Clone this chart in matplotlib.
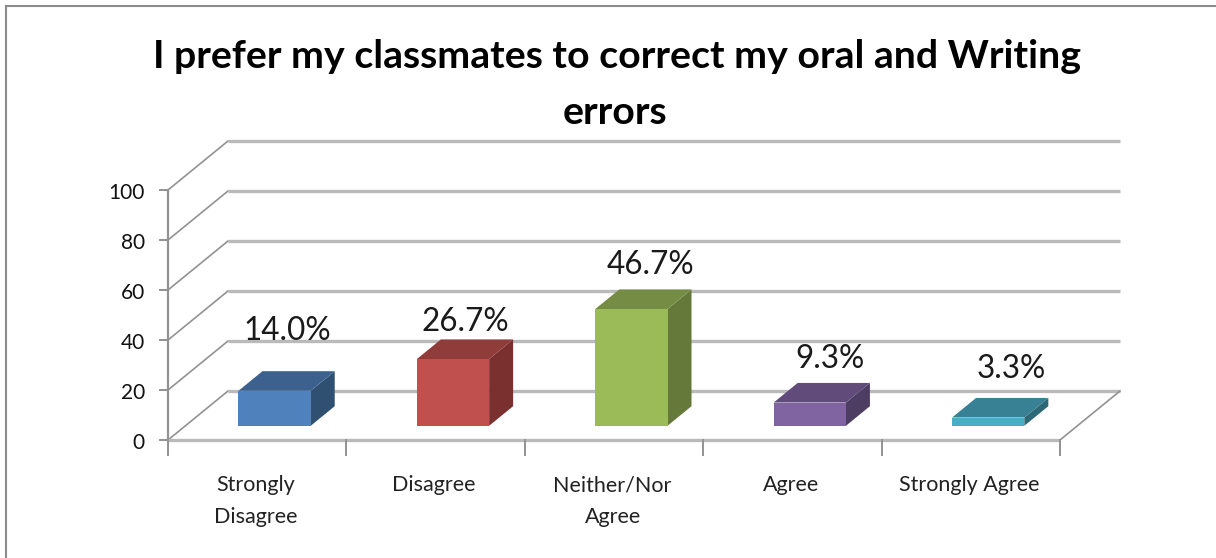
import matplotlib
matplotlib.use("Agg")
import matplotlib.pyplot as plt
from matplotlib.patches import Polygon

# Data
categories = ["Strongly\nDisagree", "Disagree", "Neither/Nor\nAgree", "Agree", "Strongly Agree"]
values = [14.0, 26.7, 46.7, 9.3, 3.3]
labels = ["14.0%", "26.7%", "46.7%", "9.3%", "3.3%"]
yticks = [0, 20, 40, 60, 80, 100]
title1 = "I prefer my classmates to correct my oral and Writing"
title2 = "errors"

front = ["#4f81bd", "#c0504d", "#9bbb59", "#8064a2", "#4bacc6"]
top = ["#3c618e", "#903c3a", "#748c43", "#604b7a", "#388195"]
side = ["#305072", "#7a302e", "#657a3a", "#4e3d63", "#2d6877"]

W, H = 1216, 558
grid_col = "#bababa"
axis_col = "#929292"

# depth of the 3D box, in data units
DX = 60 / 178.4
DY = 49 / 2.5

# label nudges (px), Excel placed these by hand
label_dx = [-11, -12, -5, -4, -1]
label_dy = [40, 17, 24, 24, 29]


def proj(x, y, d=0.0):
    return (x + d * DX, y + d * DY)


plt.rcParams["font.family"] = ["Lato", "DejaVu Sans"]
fig = plt.figure(figsize=(W / 100, H / 100), dpi=100)

ax = fig.add_axes([168 / W, 1 - 440 / H, 892 / W, 250 / H])
ax.set_xlim(0, 5)
ax.set_ylim(0, 100)
ax.axis("off")

# gridlines on the back wall + side wall + floor
for v in yticks:
    ax.plot(*zip(proj(0, v), proj(0, v, 1)), color=axis_col, lw=1.2, clip_on=False)
    ax.plot(*zip(proj(0, v, 1), proj(5, v, 1)), color=grid_col, lw=2.4, clip_on=False,
            solid_capstyle="butt")
    ax.plot(*zip(proj(0, v), proj(-0.045, v)), color=axis_col, lw=1.4, clip_on=False)
    ax.text(-0.129, v - 1.2, str(v), ha="right", va="center", fontsize=15, color="#111111",
            clip_on=False)

# axis lines
ax.plot([0, 0], [0, 100], color=axis_col, lw=1.6, clip_on=False)
ax.plot([0, 5], [0, 0], color=grid_col, lw=2.4, clip_on=False, solid_capstyle="butt")
ax.plot(*zip(proj(5, 0), proj(5, 0, 1)), color=axis_col, lw=1.2, clip_on=False)
for i in range(6):
    ax.plot([i, i], [0, -6], color=axis_col, lw=1.4, clip_on=False)

# bars
bw = 0.405
d0, d1 = 0.29, 0.69
for i, v in enumerate(values):
    xl = i + 0.5 - bw / 2
    xr = xl + bw
    f = [proj(xl, 0, d0), proj(xr, 0, d0), proj(xr, v, d0), proj(xl, v, d0)]
    t = [proj(xl, v, d0), proj(xr, v, d0), proj(xr, v, d1), proj(xl, v, d1)]
    s = [proj(xr, 0, d0), proj(xr, 0, d1), proj(xr, v, d1), proj(xr, v, d0)]
    ax.add_patch(Polygon(s, closed=True, fc=side[i], ec="none", clip_on=False, zorder=3))
    ax.add_patch(Polygon(t, closed=True, fc=top[i], ec="none", clip_on=False, zorder=3))
    ax.add_patch(Polygon(f, closed=True, fc=front[i], ec="none", clip_on=False, zorder=3))
    lx, ly = proj(i + 0.5, v, d1)
    ax.text(lx + label_dx[i] / 178.4, ly + label_dy[i] / 2.5, labels[i], ha="center",
            va="center", fontsize=22.7, color="#1a1a1a", clip_on=False, zorder=4)

# category labels
for i, c in enumerate(categories):
    ax.text(i + 0.492, -14, c, ha="center", va="top", fontsize=15.5, color="#222222",
            linespacing=1.72, clip_on=False)

# title, chart frame
fig.text(617 / W, 1 - 57 / H, title1, ha="center", va="center", fontsize=28.3, fontweight="bold",
         color="black")
fig.text(615 / W, 1 - 113 / H, title2, ha="center", va="center", fontsize=28.3, fontweight="bold",
         color="black")
fig.add_artist(plt.Line2D([6 / W, 6 / W], [0, 1 - 6 / H], color="#8c8c8c", lw=1.5))
fig.add_artist(plt.Line2D([6 / W, 1], [1 - 6 / H, 1 - 6 / H], color="#8c8c8c", lw=1.5))

fig.savefig("out.png", dpi=100, facecolor="white")
